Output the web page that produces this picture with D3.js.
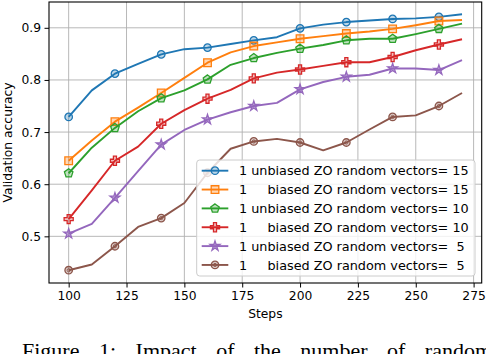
<!DOCTYPE html>
<html>
<head>
<meta charset="utf-8">
<script src="https://cdn.jsdelivr.net/npm/d3@7"></script>
<style>
body { margin: 0; background: #fff; }
text { fill: #000; }
</style>
</head>
<body>
<div id="chart-area"></div>
<script>
// steps on the x axis
var steps = [100, 110, 120, 130, 140, 150, 160, 170, 180, 190, 200, 210, 220, 230, 240, 250, 260, 270];

// validation accuracy per run
var unbiased15 = [0.729, 0.780, 0.812, 0.831, 0.849, 0.859, 0.862, 0.869, 0.876, 0.882, 0.899, 0.906, 0.911, 0.914, 0.917, 0.918, 0.921, 0.926];
var biased15   = [0.645, 0.684, 0.720, 0.747, 0.775, 0.804, 0.833, 0.853, 0.865, 0.872, 0.879, 0.884, 0.889, 0.893, 0.898, 0.905, 0.913, 0.915];
var unbiased10 = [0.621, 0.670, 0.708, 0.740, 0.765, 0.780, 0.801, 0.829, 0.842, 0.852, 0.860, 0.867, 0.876, 0.879, 0.879, 0.888, 0.898, 0.908];
var biased10   = [0.533, 0.588, 0.645, 0.672, 0.716, 0.742, 0.764, 0.781, 0.803, 0.814, 0.820, 0.827, 0.834, 0.834, 0.844, 0.857, 0.868, 0.878];
var unbiased5  = [0.505, 0.524, 0.574, 0.625, 0.676, 0.704, 0.724, 0.738, 0.750, 0.756, 0.782, 0.796, 0.806, 0.810, 0.822, 0.822, 0.819, 0.838];
var biased5    = [0.435, 0.446, 0.481, 0.518, 0.535, 0.564, 0.622, 0.668, 0.682, 0.687, 0.680, 0.665, 0.680, 0.705, 0.729, 0.732, 0.750, 0.775];

var labels = [
  "1 unbiased ZO random vectors= 15",
  "1     biased ZO random vectors= 15",
  "1 unbiased ZO random vectors= 10",
  "1     biased ZO random vectors= 10",
  "1 unbiased ZO random vectors=  5",
  "1     biased ZO random vectors=  5"
];

var xTicks = [100, 125, 150, 175, 200, 225, 250, 275];
var yTicks = [0.5, 0.6, 0.7, 0.8, 0.9];

var colors = ["#1f77b4", "#ff7f0e", "#2ca02c", "#d62728", "#9467bd", "#8c564b"];

var allSeries = [unbiased15, biased15, unbiased10, biased10, unbiased5, biased5];

var W = 486, H = 354;
var pLeft = 49, pRight = 481.7, pTop = 2, pBottom = 283;
var sans = "DejaVu Sans, sans-serif";

var svg = d3
  .select("#chart-area")
  .append("svg")
  .attr("width", W)
  .attr("height", H);

var x = d3.scaleLinear().domain([91.5, 278.5]).range([pLeft, pRight]);
var y = d3.scaleLinear().domain([0.4105, 0.9495]).range([pBottom, pTop]);

// grid
svg.append("g")
  .selectAll("line")
  .data(xTicks)
  .enter()
  .append("line")
  .attr("x1", d => x(d)).attr("x2", d => x(d))
  .attr("y1", pTop).attr("y2", pBottom)
  .attr("stroke", "#b0b0b0").attr("stroke-width", 0.9);

svg.append("g")
  .selectAll("line")
  .data(yTicks)
  .enter()
  .append("line")
  .attr("x1", pLeft).attr("x2", pRight)
  .attr("y1", d => y(d)).attr("y2", d => y(d))
  .attr("stroke", "#b0b0b0").attr("stroke-width", 0.9);

// pentagon for the green run
var pentagon = {
  draw: function (ctx, size) {
    var r = Math.sqrt(size / 2.38);
    for (var k = 0; k < 5; k++) {
      var a = -Math.PI / 2 + k * 2 * Math.PI / 5;
      if (k == 0) ctx.moveTo(r * Math.cos(a), r * Math.sin(a));
      else ctx.lineTo(r * Math.cos(a), r * Math.sin(a));
    }
    ctx.closePath();
  }
};
var shapes = [
  d3.symbol().type(d3.symbolCircle).size(44),
  d3.symbol().type(d3.symbolSquare).size(58),
  d3.symbol().type(pentagon).size(48),
  d3.symbol().type(d3.symbolCross).size(46),
  d3.symbol().type(d3.symbolStar).size(30),
  d3.symbol().type(d3.symbolCircle).size(44)
];

var line = d3.line()
  .x((d, i) => x(steps[i]))
  .y(d => y(d));

var runs = svg.selectAll("g.run")
  .data(allSeries)
  .enter()
  .append("g")
  .attr("class", "run");

runs.append("path")
  .attr("d", d => line(d))
  .attr("fill", "none")
  .attr("stroke", (d, i) => colors[i])
  .attr("stroke-width", 1.9)
  .attr("stroke-linejoin", "round");

runs.each(function (vals, s) {
  var pts = vals.map((v, i) => [steps[i], v]).filter((p, i) => i % 2 == 0 && p[0] <= 260);
  d3.select(this).selectAll("path.mk")
    .data(pts)
    .enter()
    .append("path")
    .attr("class", "mk")
    .attr("d", shapes[s])
    .attr("transform", p => "translate(" + x(p[0]) + "," + y(p[1]) + ")")
    .attr("fill", colors[s])
    .attr("fill-opacity", s == 4 ? 0.6 : 0.3)
    .attr("stroke", colors[s])
    .attr("stroke-width", 1.3);
  if (s == 5) {
    d3.select(this).selectAll("circle.inner")
      .data(pts)
      .enter()
      .append("circle")
      .attr("cx", p => x(p[0]))
      .attr("cy", p => y(p[1]))
      .attr("r", 1.6)
      .attr("fill", "none")
      .attr("stroke", colors[s])
      .attr("stroke-width", 0.9);
  }
});

// axes
var xAxis = d3.axisBottom(x).tickValues(xTicks).tickSize(4.5).tickPadding(3.5).tickFormat(d3.format("d"));
var yAxis = d3.axisLeft(y).tickValues(yTicks).tickSize(4.5).tickPadding(3.5).tickFormat(d3.format(".1f"));

var gx = svg.append("g").attr("transform", "translate(0," + pBottom + ")").call(xAxis);
var gy = svg.append("g").attr("transform", "translate(" + pLeft + ",0)").call(yAxis);
[gx, gy].forEach(g => {
  g.attr("font-family", null).attr("font-size", null);
  g.select(".domain").remove();
  g.selectAll("line").attr("stroke", "#000").attr("stroke-width", 1);
  g.selectAll("text").style("font-family", sans).style("font-size", "12.3px").attr("fill", "#000");
});

// frame
svg.append("rect")
  .attr("x", pLeft).attr("y", pTop)
  .attr("width", pRight - pLeft).attr("height", pBottom - pTop)
  .attr("fill", "none").attr("stroke", "#000").attr("stroke-width", 1.1);

svg.append("text")
  .attr("x", (pLeft + pRight) / 2).attr("y", 318)
  .attr("text-anchor", "middle")
  .style("font-family", sans).style("font-size", "12.3px")
  .text("Steps");

svg.append("text")
  .attr("transform", "translate(12," + (pTop + pBottom) / 2 + ") rotate(-90)")
  .attr("text-anchor", "middle")
  .style("font-family", sans).style("font-size", "12.3px")
  .text("Validation accuracy");

// legend
var lg = svg.append("g");
lg.append("rect")
  .attr("x", 196.7).attr("y", 160)
  .attr("width", 278.3).attr("height", 116)
  .attr("rx", 3)
  .attr("fill", "#fff").attr("fill-opacity", 0.8)
  .attr("stroke", "#cccccc").attr("stroke-width", 1);

var rows = lg.selectAll("g.row")
  .data(labels)
  .enter()
  .append("g")
  .attr("transform", (d, i) => "translate(0," + (170.7 + i * 18.85) + ")");

rows.append("line")
  .attr("x1", 201.7).attr("x2", 228.3)
  .attr("stroke", (d, i) => colors[i])
  .attr("stroke-width", 1.9);

rows.append("path")
  .attr("d", (d, i) => shapes[i]())
  .attr("transform", "translate(215,0)")
  .attr("fill", (d, i) => colors[i])
  .attr("fill-opacity", (d, i) => i == 4 ? 0.6 : 0.3)
  .attr("stroke", (d, i) => colors[i])
  .attr("stroke-width", 1.3);

rows.filter((d, i) => i == 5)
  .append("circle")
  .attr("cx", 215).attr("r", 1.6)
  .attr("fill", "none").attr("stroke", colors[5]).attr("stroke-width", 0.9);

rows.append("text")
  .attr("x", 239).attr("y", 4.6)
  .style("font-family", sans).style("font-size", "12.8px")
  .attr("xml:space", "preserve")
  .style("white-space", "pre")
  .text(d => d);

// caption of the paper, cut by the bottom edge
svg.append("text")
  .attr("x", 22).attr("y", 358)
  .style("font-family", "Liberation Serif, serif")
  .style("font-size", "22px")
  .style("word-spacing", "14px")
  .text("Figure 1: Impact of the number of random vectors");
</script>
</body>
</html>
